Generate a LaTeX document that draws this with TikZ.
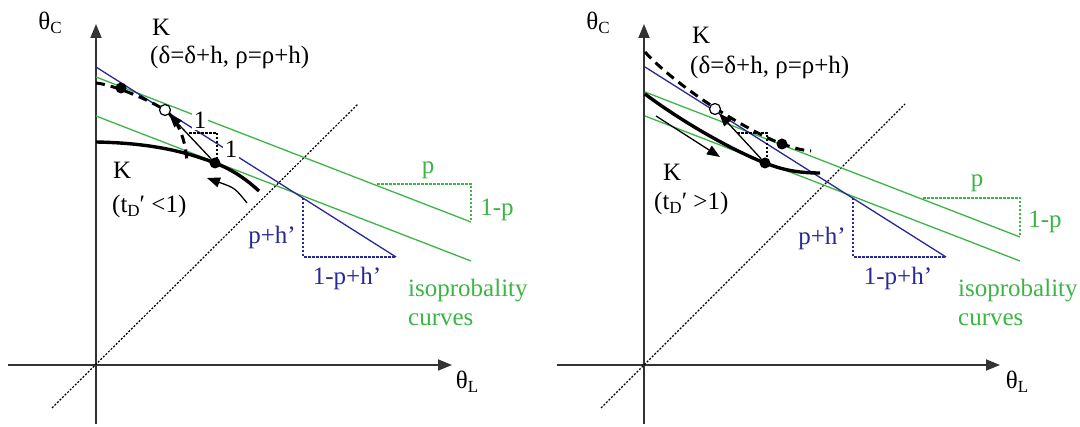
\documentclass[tikz,border=0pt]{standalone}
\usepackage{fontspec}
\setmainfont{Liberation Serif}
\usetikzlibrary{arrows.meta}
\definecolor{isogreen}{RGB}{60,180,70}
\definecolor{kblue}{RGB}{40,40,150}
\newcommand\lowsub[1]{\raisebox{-0.35ex}{\fontsize{17}{17}\selectfont #1}}
\begin{document}
\begin{tikzpicture}[x=1pt,y=-1pt,
 lbl/.style={font=\fontsize{25}{28}\selectfont, inner sep=1pt},
 axisline/.style={line width=1.8pt, draw=black!80, -{Triangle[length=14,width=11]}},
 diag/.style={line width=1.2pt, dash pattern=on 2pt off 1.6pt},
 iso/.style={isogreen, line width=1.3pt},
 blu/.style={kblue, line width=1.3pt},
 gtri/.style={isogreen, line width=1.1pt, dash pattern=on 2.5pt off 1.5pt},
 btri/.style={kblue, line width=1.1pt, dash pattern=on 2.5pt off 1.5pt},
 ktri/.style={black, line width=1.1pt, dash pattern=on 2.5pt off 1.5pt},
 kcurve/.style={line width=3.4pt},
 kdash/.style={line width=3pt, dash pattern=on 9pt off 6pt},
 thinarr/.style={line width=1.3pt, -{Triangle[length=13,width=10]}},
 fdot/.style={circle, fill=black, minimum size=11pt, inner sep=0},
 odot/.style={circle, draw=black, fill=white, line width=1.2pt, minimum size=11pt, inner sep=0},
]
\useasboundingbox (0,0) rectangle (1080,427);

% ================= LEFT PANEL =================
\coordinate (Lbot) at (96,424);
\coordinate (Ltop) at (96,24);
\coordinate (Lleft) at (8,365);
\coordinate (Lright) at (452,365);
\draw[axisline] (Lbot) -- (Ltop);
\draw[axisline] (Lleft) -- (Lright);
\node[lbl] (LthC) at (50,23) {θ\lowsub{C}};
\node[lbl] (LthL) at (467,382) {θ\lowsub{L}};
\coordinate (Ld1) at (52,408);
\coordinate (Ld2) at (358,104);
\draw[diag] (Ld1) -- (Ld2);

\coordinate (Lg1a) at (96,77);  \coordinate (Lg1b) at (471,222);
\coordinate (Lg2a) at (96,116); \coordinate (Lg2b) at (471,261);
\draw[iso] (Lg1a) -- (Lg1b);
\draw[iso] (Lg2a) -- (Lg2b);
\coordinate (Lba) at (96,67); \coordinate (Lbb) at (396,257);
\draw[blu] (Lba) -- (Lbb);

\coordinate (Lgt1) at (377,184); \coordinate (Lgt2) at (471,184);
\draw[gtri] (Lgt1) -- (Lgt2) -- (Lg1b);
\coordinate (Lbt1) at (303,198); \coordinate (Lbt2) at (303,257);
\draw[btri] (Lbt1) -- (Lbt2) -- (Lbb);

\node[lbl, text=isogreen] (Lp) at (428,170) {p};
\node[lbl, text=isogreen] (L1p) at (497,210) {1-p};
\node[lbl, text=kblue] (Lph) at (272,237) {p+h’};
\node[lbl, text=kblue] (L1ph) at (347,278) {1-p+h’};
\node[lbl, text=isogreen, anchor=base west] (Liso) at (407,297) {isoprobality};
\node[lbl, text=isogreen, anchor=base west] (Lcur) at (407,326) {curves};

% K curves
\coordinate (LdotP) at (215,163);
\coordinate (LopenP) at (165,110);
\coordinate (LfdP) at (121,88);
\draw[kcurve] (96,142) .. controls (150,143) and (185,151.4) .. (LdotP)
  .. controls (235,170.7) and (248,181) .. (259,191);
\draw[kdash] (96,83) .. controls (108,84) and (140,95) .. (LopenP)
  .. controls (178,120) and (186,140) .. (187,163);

\coordinate (Lsq1) at (189,133); \coordinate (Lsq2) at (217,133); \coordinate (Lsq3) at (217,160);
\draw[ktri] (Lsq1) -- (Lsq2) -- (Lsq3);

\node[fdot] (Lfd1) at (LfdP) {};
\node[fdot] (Lfd2) at (LdotP) {};
\node[odot] (Lod) at (LopenP) {};
\draw[thinarr] (Lfd2) -- (Lod);
\coordinate (Lca) at (247,203); \coordinate (Lcb) at (207,178);
\draw[thinarr] (Lca) .. controls (235,188) .. (Lcb);

\node[lbl, fill=white, inner sep=2pt] (Lone1) at (200,120) {1};
\node[lbl, fill=white, inner sep=2pt] (Lone2) at (231,149) {1};

\node[lbl, anchor=west] (LK1) at (151,27) {K};
\node[lbl, anchor=west] (LK1b) at (149,57) {(δ=δ+h, ρ=ρ+h)};
\node[lbl, anchor=west] (LK2) at (112,170) {K};
\node[lbl, anchor=west] (LK2b) at (111,206) {(t\lowsub{D}′ <1)};

% ================= RIGHT PANEL =================
\coordinate (Rbot) at (644,424);
\coordinate (Rtop) at (644,24);
\coordinate (Rleft) at (557,365);
\coordinate (Rright) at (1000,365);
\draw[axisline] (Rbot) -- (Rtop);
\draw[axisline] (Rleft) -- (Rright);
\node[lbl] (RthC) at (598,23) {θ\lowsub{C}};
\node[lbl] (RthL) at (1017,382) {θ\lowsub{L}};
\coordinate (Rd1) at (601,408);
\coordinate (Rd2) at (905,104);
\draw[diag] (Rd1) -- (Rd2);

\coordinate (Rg1a) at (645,92);  \coordinate (Rg1b) at (1020,237);
\coordinate (Rg2a) at (645,116); \coordinate (Rg2b) at (1020,261);
\draw[iso] (Rg1a) -- (Rg1b);
\draw[iso] (Rg2a) -- (Rg2b);
\coordinate (Rba) at (645,67); \coordinate (Rbb) at (946,257);
\draw[blu] (Rba) -- (Rbb);

\coordinate (Rgt1) at (923,198); \coordinate (Rgt2) at (1020,198);
\draw[gtri] (Rgt1) -- (Rgt2) -- (Rg1b);
\coordinate (Rbt1) at (853,198); \coordinate (Rbt2) at (853,257);
\draw[btri] (Rbt1) -- (Rbt2) -- (Rbb);

\node[lbl, text=isogreen] (Rp) at (977,183) {p};
\node[lbl, text=isogreen] (R1p) at (1045,222) {1-p};
\node[lbl, text=kblue] (Rph) at (822,238) {p+h’};
\node[lbl, text=kblue] (R1ph) at (898,278) {1-p+h’};
\node[lbl, text=isogreen, anchor=base west] (Riso) at (957,297) {isoprobality};
\node[lbl, text=isogreen, anchor=base west] (Rcur) at (957,326) {curves};

\coordinate (RdotP) at (765,163);
\coordinate (RopenP) at (715,109);
\coordinate (RfdP) at (782,144);
\draw[kcurve] (645,94) .. controls (685,124) and (735,151.4) .. (RdotP)
  .. controls (785,170.7) and (800,173) .. (820,173);
\draw[kdash] (645,52) .. controls (675,85) and (742,128.5) .. (RfdP)
  .. controls (795,148) and (800,150) .. (811,151);

\coordinate (Rsq1) at (737,133); \coordinate (Rsq2) at (767,133); \coordinate (Rsq3) at (767,160);
\draw[ktri] (Rsq1) -- (Rsq2) -- (Rsq3);

\node[fdot] (Rfd1) at (RfdP) {};
\node[fdot] (Rfd2) at (RdotP) {};
\node[odot] (Rod) at (RopenP) {};
\draw[thinarr] (Rfd2) -- (Rod);
\coordinate (Rsa) at (656,116); \coordinate (Rsb) at (720,157);
\draw[thinarr] (Rsa) -- (Rsb);

\node[lbl, anchor=west] (RK1) at (691,35) {K};
\node[lbl, anchor=west] (RK1b) at (689,67) {(δ=δ+h, ρ=ρ+h)};
\node[lbl, anchor=west] (RK2) at (662,172) {K};
\node[lbl, anchor=west] (RK2b) at (653,203) {(t\lowsub{D}′ >1)};
\end{tikzpicture}
\end{document}
